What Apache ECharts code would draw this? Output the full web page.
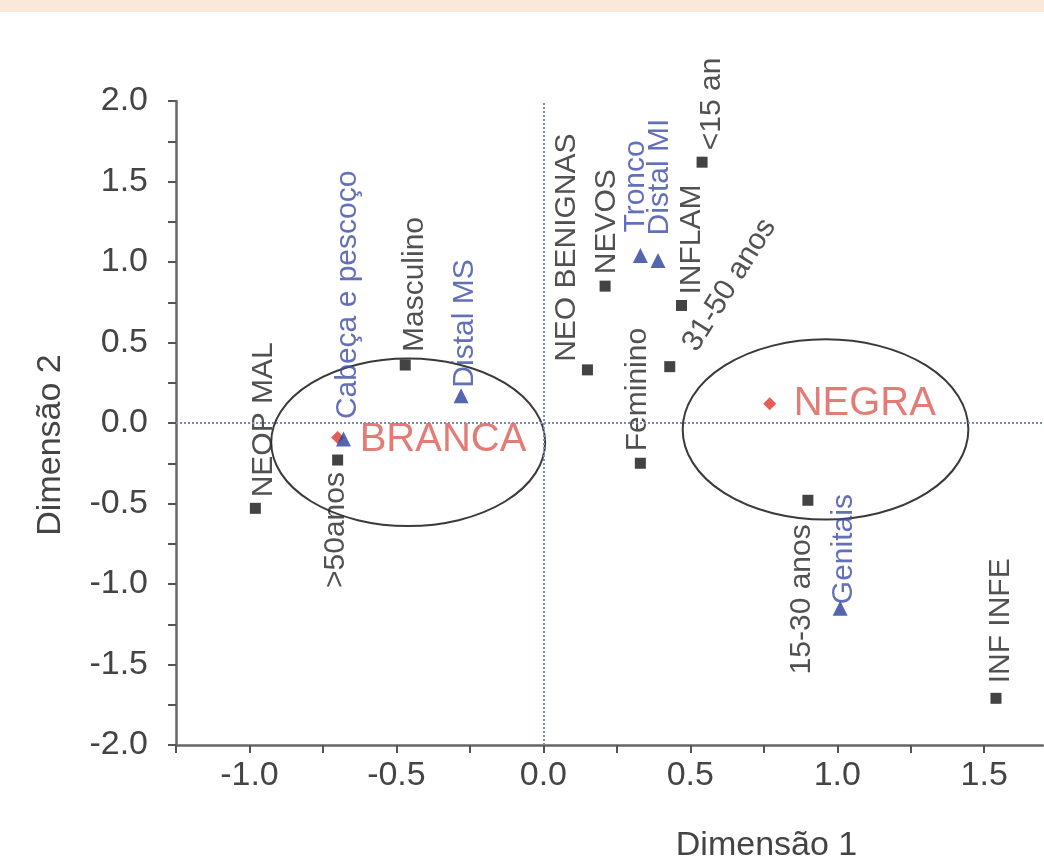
<!DOCTYPE html>
<html>
<head>
<meta charset="utf-8">
<script src="https://cdn.jsdelivr.net/npm/echarts@6/dist/echarts.min.js"></script>
<style>
html, body { margin: 0; padding: 0; background: #fff; }
#chart { width: 1044px; height: 863px; }
</style>
</head>
<body>
<div id="chart"></div>
<script>
// categorias (quadrados pretos)
var catNames = ['NEOP MAL', '>50anos', 'Masculino', 'NEO BENIGNAS', 'NEVOS', 'Feminino', '31-50 anos', 'INFLAM', '<15 an', '15-30 anos', 'INF INFE'];
var catX = [-0.98, -0.70, -0.47, 0.15, 0.21, 0.33, 0.43, 0.47, 0.54, 0.90, 1.54];
var catY = [-0.53, -0.23, 0.36, 0.33, 0.85, -0.25, 0.35, 0.73, 1.62, -0.48, -1.71];

// localizacao (triangulos azuis)
var locNames = ['Cabeça e pescoço', 'Distal MS', 'Tronco', 'Distal MI', 'Genitais'];
var locX = [-0.68, -0.28, 0.33, 0.39, 1.01];
var locY = [-0.10, 0.17, 1.04, 1.01, -1.15];

// raca (losangos vermelhos)
var raceNames = ['BRANCA', 'NEGRA'];
var raceX = [-0.70, 0.77];
var raceY = [-0.09, 0.12];

// elipses: centro e raios
var ellCx = [-0.46, 0.96];
var ellCy = [-0.12, -0.04];
var ellRx = [0.466, 0.486];
var ellRy = [0.52, 0.56];

// deslocamento dos rotulos (px) a partir do marcador: dx, dy, align, rotate
var catLabelPos = [[8, -11, 'left', 90], [-2, 12, 'right', 90], [9, -13, 'left', 90], [-21, -8, 'left', 90], [2, -12, 'left', 90],
    [-3, -12, 'left', 90], [20, -18, 'left', 58], [10, -11, 'left', 90], [10, -12, 'left', 90], [-6, 24, 'right', 90], [5, -15, 'left', 90]];
var locLabelPos = [[4, -20, 'left', 90], [4, -8, 'left', 90], [-5, -23, 'left', 90], [2, -25, 'left', 90], [4, -4, 'left', 90]];
var raceLabelPos = [[22, 2, 'left', 0], [24, 0, 'left', 0]];

var FONT = 'Liberation Sans';

function points(names, xs, ys, pos, size) {
    return names.map(function (n, i) {
        var p = pos[i];
        return {
            name: n,
            value: [xs[i], ys[i]],
            label: { position: [p[0] + size / 2, p[1] + size / 2], align: p[2], verticalAlign: 'middle', rotate: p[3] }
        };
    });
}

function half(v) {
    return Math.abs(v * 2 - Math.round(v * 2)) < 1e-6;
}

var chart = echarts.init(document.getElementById('chart'));

var option = {
    animation: false,
    backgroundColor: '#fff',
    graphic: [{
        type: 'rect', left: 0, top: 0, shape: { width: 1044, height: 12 },
        style: { fill: '#fce8da' }
    }],
    grid: { left: 176, right: 1, top: 101, bottom: 118, outerBoundsMode: 'none' },
    xAxis: {
        type: 'value', min: -1.25, max: 1.7, interval: 0.25,
        name: 'Dimensão 1', nameLocation: 'middle', nameGap: 84,
        nameTextStyle: { fontFamily: FONT, fontSize: 34, color: '#444', padding: [0, 0, 0, 314] },
        axisLine: { onZero: false, lineStyle: { color: '#666', width: 2.5 } },
        axisTick: { length: 8, lineStyle: { color: '#555', width: 2 } },
        axisLabel: {
            fontFamily: FONT, fontSize: 34, color: '#444', margin: 14, showMaxLabel: false,
            formatter: function (v) { return half(v) ? v.toFixed(1) : ''; }
        },
        splitLine: { show: false }
    },
    yAxis: {
        type: 'value', min: -2, max: 2, interval: 0.25,
        name: 'Dimensão 2', nameLocation: 'middle', nameGap: 108,
        nameTextStyle: { fontFamily: FONT, fontSize: 34, color: '#444', padding: [0, 44, 0, 0] },
        axisLine: { onZero: false, lineStyle: { color: '#666', width: 2.5 } },
        axisTick: { length: 8, lineStyle: { color: '#555', width: 2 } },
        axisLabel: {
            fontFamily: FONT, fontSize: 34, color: '#444', margin: 28,
            formatter: function (v) { return half(v) ? v.toFixed(1) : ''; }
        },
        splitLine: { show: false }
    },
    series: [
        {
            type: 'custom',
            silent: true,
            z: 1,
            data: ellCx.map(function (c, i) { return [c, ellCy[i], ellRx[i], ellRy[i]]; }),
            renderItem: function (params, api) {
                var c = api.coord([api.value(0), api.value(1)]);
                var s = api.size([api.value(2), api.value(3)]);
                var rx = s[0], ry = s[1];
                var d = 'M' + (c[0] - rx) + ' ' + c[1] +
                    ' A' + rx + ' ' + ry + ' 0 1 0 ' + (c[0] + rx) + ' ' + c[1] +
                    ' A' + rx + ' ' + ry + ' 0 1 0 ' + (c[0] - rx) + ' ' + c[1] + ' Z';
                return { type: 'path', shape: { pathData: d }, style: { fill: 'none', stroke: '#3a3a3a', lineWidth: 2 } };
            },
            markLine: {
                silent: true, symbol: 'none', label: { show: false },
                lineStyle: { type: 'dotted', color: '#7b8bb0', width: 2 },
                data: [{ xAxis: 0 }, { yAxis: 0 }]
            }
        },
        {
            type: 'scatter',
            z: 3,
            symbol: 'diamond',
            symbolSize: 13,
            itemStyle: { color: '#e0352b' },
            label: { show: true, formatter: '{b}', fontFamily: FONT, fontSize: 40, color: '#dd5a55' },
            data: points(raceNames, raceX, raceY, raceLabelPos, 13)
        },
        {
            type: 'scatter',
            z: 4,
            symbol: 'triangle',
            symbolSize: 15,
            itemStyle: { color: '#2c3f9c' },
            label: { show: true, formatter: '{b}', fontFamily: FONT, fontSize: 30, color: '#3c4ba6' },
            data: points(locNames, locX, locY, locLabelPos, 15)
        },
        {
            type: 'scatter',
            z: 4,
            symbol: 'rect',
            symbolSize: 11,
            itemStyle: { color: '#141414' },
            label: { show: true, formatter: '{b}', fontFamily: FONT, fontSize: 30, color: '#262626' },
            data: points(catNames, catX, catY, catLabelPos, 11)
        }
    ]
};

chart.setOption(option);
</script>
</body>
</html>
